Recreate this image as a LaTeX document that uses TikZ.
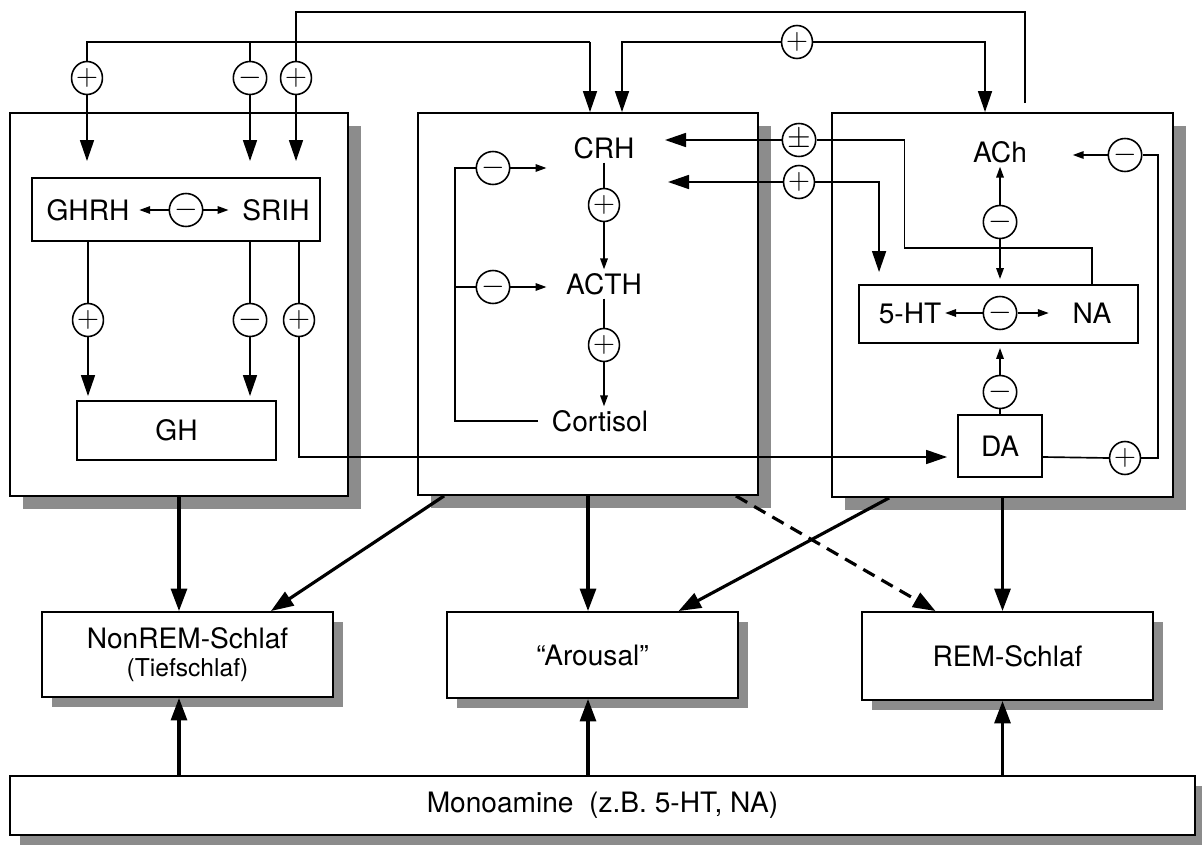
\documentclass[tikz,border=0pt]{standalone}
\usepackage{fontspec}
\setmainfont{TeX Gyre Heros}
\usetikzlibrary{arrows.meta,calc,shadows,shapes.geometric}

\begin{document}
\begin{tikzpicture}[
        x=0.02cm, y=-0.02cm,
        font=\fontsize{16}{18}\selectfont,
        frame/.style={draw, line width=1.1pt, fill=white},
        shd/.style={drop shadow={shadow xshift=#1, shadow yshift=-#1,
                                 fill=black!45, opacity=1}},
        shd/.default=0.26cm,
        inbox/.style={draw, line width=1.1pt, fill=white},
        sign/.style={ellipse, draw, line width=0.9pt, fill=white, inner sep=0pt,
                     minimum width=0.6cm, minimum height=0.66cm,
                     font=\fontsize{16}{16}\selectfont},
        txt/.style={inner sep=2pt},
        ln/.style={line width=0.95pt},
        arrs/.style={ln, -{Triangle[length=0.22cm, width=0.15cm]}},
        arrm/.style={ln, -{Triangle[length=0.42cm, width=0.28cm]}},
        arrb/.style={line width=1.8pt, -{Triangle[length=0.45cm, width=0.32cm]}},
    ]
    \useasboundingbox (0,0) rectangle (1202,848);

    % upper frames
    \node[frame, shd, minimum width=6.76cm, minimum height=7.66cm] (lbox) at (179,304.5) {};
    \node[frame, shd, minimum width=6.80cm, minimum height=7.64cm] (mbox) at (588,304) {};
    \node[frame, shd, minimum width=6.82cm, minimum height=7.68cm] (rbox) at (1002.5,305) {};

    % lower frames
    \node[frame, shd=0.2cm, minimum width=5.82cm, minimum height=1.70cm, align=center]
        (nrem) at (187.5,654.5) {NonREM-Schlaf\\[-2pt]{\fontsize{14}{16}\selectfont(Tiefschlaf)}};
    \node[frame, shd=0.2cm, minimum width=5.82cm, minimum height=1.72cm]
        (arousal) at (592.5,655) {``Arousal''};
    \node[frame, shd=0.2cm, minimum width=5.82cm, minimum height=1.76cm]
        (rem) at (1007.5,656) {REM-Schlaf};
    \node[frame, shd=0.2cm, minimum width=23.7cm, minimum height=1.18cm]
        (mono) at (602.5,805.5) {Monoamine\ \ (z.B. 5-HT, NA)};

    % inner boxes
    \node[inbox, minimum width=5.76cm, minimum height=1.26cm] (ghbox) at (176,209.5) {};
    \node[inbox, minimum width=3.98cm, minimum height=1.18cm] (gh) at (176.5,430.5) {GH};
    \node[inbox, minimum width=5.58cm, minimum height=1.16cm] (htna) at (998.5,314) {};
    \node[inbox, minimum width=1.68cm, minimum height=1.24cm] (da) at (1000,446) {DA};

    % substances
    \node[txt] (ghrh) at (88,210) {GHRH};
    \node[txt] (srih) at (276,210) {SRIH};
    \node[txt] (crh) at (604,148) {CRH};
    \node[txt] (acth) at (604,284) {ACTH};
    \node[txt] (cort) at (600,421) {Cortisol};
    \node[txt] (ach) at (1000,152) {ACh};
    \node[txt] (ht) at (910,313) {5-HT};
    \node[txt] (na) at (1092,313) {NA};

    % signs
    \node[sign] (sgTG) at (87,78) {$+$};
    \node[sign] (sgTS) at (250,78) {$-$};
    \node[sign] (sgTA) at (296,78) {$+$};
    \node[sign] (sgCA) at (797,42) {$+$};
    \node[sign] (sgGS) at (186,210) {$-$};
    \node[sign] (sgG1) at (88,320) {$+$};
    \node[sign] (sgG2) at (250,320) {$-$};
    \node[sign] (sgG3) at (299,320) {$+$};
    \node[sign] (sgC1) at (604,205) {$+$};
    \node[sign] (sgC2) at (604,345) {$+$};
    \node[sign] (sgF1) at (493,168) {$-$};
    \node[sign] (sgF2) at (493,287) {$-$};
    \node[sign] (sgPM) at (799,140) {$\pm$};
    \node[sign] (sgPP) at (799,182) {$+$};
    \node[sign] (sgAh) at (1000,222) {$-$};
    \node[sign] (sgAm) at (1125,155) {$-$};
    \node[sign] (sgHN) at (1000,313) {$-$};
    \node[sign] (sgDh) at (1000,392) {$-$};
    \node[sign] (sgDp) at (1125,458) {$+$};

    % wiring above the frames
    \coordinate (achout) at (1025,103);
    \coordinate (bus) at (590,42);
    \draw[ln] (achout) -- ++(0,-91) -| (sgTA.north);
    \draw[ln] (sgTG.north) |- (bus);
    \draw[ln] (sgTS.north) -- (sgTS |- bus);
    \draw[arrm] (bus) -- (bus |- mbox.north);
    \draw[arrm, shorten >=0.32cm] (sgTG.south) -- (sgTG |- ghbox.north);
    \draw[arrm, shorten >=0.32cm] (sgTS.south) -- (sgTS |- ghbox.north);
    \draw[arrm, shorten >=0.32cm] (sgTA.south) -- (sgTA |- ghbox.north);
    \draw[arrm] (sgCA.west) -| ($(mbox.north)+(34,0)$);
    \draw[arrm] (sgCA.east) -| ($(rbox.north)+(-17.5,0)$);

    % left frame
    \draw[arrs, shorten >=0.12cm] (sgGS.west) -- (ghrh.east);
    \draw[arrs, shorten >=0.2cm] (sgGS.east) -- (srih.west);
    \draw[ln] (sgG1 |- ghbox.south) -- (sgG1.north);
    \draw[ln] (sgG2 |- ghbox.south) -- (sgG2.north);
    \draw[ln] (sgG3 |- ghbox.south) -- (sgG3.north);
    \draw[arrm, shorten >=0.08cm] (sgG1.south) -- (sgG1 |- gh.north);
    \draw[arrm, shorten >=0.08cm] (sgG2.south) -- (sgG2 |- gh.north);
    \draw[arrm, shorten >=0.2cm] (sgG3.south) |- ([yshift=-0.22cm]da.west);

    % middle frame
    \coordinate (crhA) at (665,140);
    \coordinate (crhB) at (668,182);
    \draw[ln] (crh.south) -- (sgC1.north);
    \draw[arrs] (sgC1.south) -- (acth.north);
    \draw[ln] (acth.south) -- (sgC2.north);
    \draw[arrs] (sgC2.south) -- (sgC2 |- cort.north);
    \draw[ln, shorten <=0.2cm] (cort.west) -- ++(-93,0) |- (sgF1.west);
    \draw[ln] (sgF2.west) -- ++(-21,0);
    \draw[arrs] (sgF1.east) -- ++(36,0);
    \draw[arrs] (sgF2.east) -- ++(36,0);
    \draw[arrm] (sgPM.west) -- (crhA);
    \draw[arrm] (sgPP.west) -- (crhB);

    % right frame
    \draw[ln] (sgPM.east) -- ++(88,0) -- ++(0,108) -| (na |- htna.north);
    \draw[arrm, shorten >=0.24cm] (sgPP.east) -| ($(htna.north west)+(21,0)$);
    \draw[arrs] (sgAh.north) -- (ach.south);
    \draw[arrs, shorten >=0.1cm] (sgAh.south) -- (sgAh |- htna.north);
    \draw[arrs, shorten >=0.84cm] (sgAm.west) -- (sgAm.west -| ach.east);
    \draw[ln] ([yshift=-0.22cm]da.east) -- (sgDp.west);
    \draw[ln] (sgDp.east) -- ++(17,0) |- (sgAm.east);
    \draw[ln] (da.north) -- (sgDh.south);
    \draw[arrs, shorten >=0.08cm] (sgDh.north) -- (sgDh |- htna.south);
    \draw[arrs] (sgHN.west) -- (ht.east);
    \draw[arrs, shorten >=0.4cm] (sgHN.east) -- (na.west);

    % to the states
    \draw[arrb] (lbox.south) -- (lbox.south |- nrem.north);
    \draw[arrb] (mbox.south) -- (mbox.south |- arousal.north);
    \draw[arrb] (rbox.south) -- (rbox.south |- rem.north);
    \draw[arrb] ($(mbox.south west)+(27,0)$) -- ($(nrem.north east)+(-63,0)$);
    \draw[arrb] ($(rbox.south west)+(58,0)$) -- ($(arousal.north)+(86,0)$);
    \draw[arrb, dash pattern=on 0.26cm off 0.16cm]
        ($(mbox.south east)+(-23,0)$) -- ($(rem.north)+(-72,0)$);
    \draw[arrb] (mono.north -| lbox.south) -- (nrem.south -| lbox.south);
    \draw[arrb] (mono.north -| mbox.south) -- (arousal.south -| mbox.south);
    \draw[arrb] (mono.north -| rbox.south) -- (rem.south -| rbox.south);

\end{tikzpicture}
\end{document}
